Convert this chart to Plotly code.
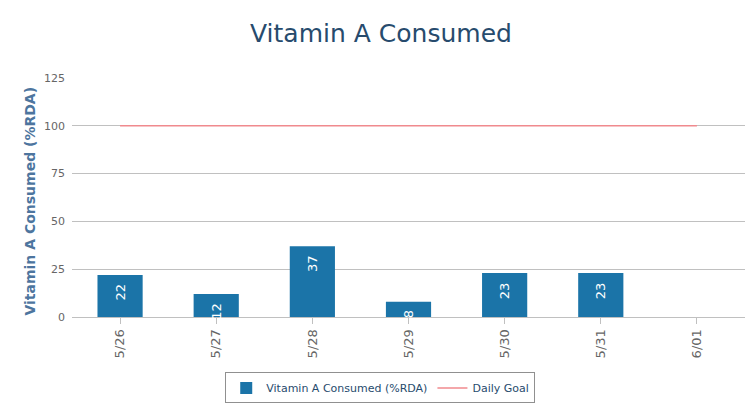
import plotly.graph_objects as go

dates = ["5/26", "5/27", "5/28", "5/29", "5/30", "5/31", "6/01"]
consumed = [22, 12, 37, 8, 23, 23, None]
bar_labels = ["22", "12", "37", "8", "23", "23", ""]
goal = [100, 100, 100, 100, 100, 100, 100]
y_ticks = [0, 25, 50, 75, 100, 125]

FONT = "DejaVu Sans"

fig = go.Figure()
fig.add_trace(go.Bar(
    x=dates, y=consumed, name="Vitamin A Consumed (%RDA)",
    marker=dict(color="#1b74a8", line=dict(width=0)),
))
fig.add_trace(go.Scatter(
    x=dates, y=goal, name="Daily Goal", mode="lines",
    line=dict(color="#f08a8e", width=1.5),
))

for d, v, t in zip(dates, consumed, bar_labels):
    if v is None or t == "":
        continue
    fig.add_annotation(
        x=d, y=v, text=t, textangle=-90, showarrow=False,
        yanchor="top", yshift=-7,
        font=dict(family=FONT, size=13, color="white"),
    )

# y-axis title as annotation for precise placement
fig.add_annotation(
    xref="paper", yref="paper", x=-0.0624, y=0.483, xanchor="center", yanchor="middle",
    text="<b>Vitamin A Consumed (%RDA)</b>", textangle=-90, showarrow=False,
    font=dict(family=FONT, size=14, color="#4d759e"),
)

fig.update_layout(
    width=747, height=398,
    paper_bgcolor="white", plot_bgcolor="white",
    margin=dict(l=64, r=10, t=70, b=89, autoexpand=False),
    title=dict(text="Vitamin A Consumed", x=0.4993, xanchor="center", y=0.937, yanchor="middle",
               font=dict(family=FONT, size=25, color="#274b6d")),
    bargap=0.53,
    showlegend=True,
    legend=dict(orientation="h", x=0.458, xanchor="center", y=-0.297, yanchor="middle",
                bordercolor="#909090", borderwidth=1, bgcolor="white",
                font=dict(family=FONT, size=11, color="#274b6d"),
                itemwidth=30, tracegroupgap=0),
    xaxis=dict(
        type="category", range=[-0.5, 6.5], tickangle=-90, automargin=False,
        tickfont=dict(family=FONT, size=13, color="#666666"),
        showgrid=False, showline=True, linecolor="#c0c0c0", linewidth=1,
        ticks="outside", ticklen=6, tickcolor="#c0c0c0",
    ),
    yaxis=dict(
        range=[0, 125], tickvals=y_ticks, automargin=False,
        tickfont=dict(family=FONT, size=11, color="#666666"),
        showgrid=True, gridcolor="#c0c0c0", gridwidth=1,
        zeroline=False, ticks="", ticklabelstandoff=6,
    ),
)

fig.write_html("out.html")
